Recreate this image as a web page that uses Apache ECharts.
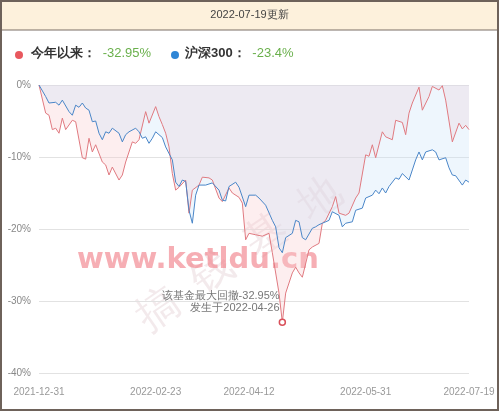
<!DOCTYPE html>
<html>
<head>
<meta charset="utf-8">
<script src="https://cdn.jsdelivr.net/npm/echarts@6/dist/echarts.min.js"></script>
<style>
  html, body { margin: 0; padding: 0; background: #fff; }
  #chart { width: 499px; height: 411px; }
</style>
</head>
<body>
<div id="chart"></div>
<script>
// trading-day index and cumulative return (%)
const fundDays = [0, 2, 3, 4, 5, 6, 7, 8, 10, 11, 13, 14, 15, 16, 17, 19, 20, 21, 22, 24, 25, 26, 28, 29, 30, 32, 33, 35, 36, 37, 38, 39, 40, 41, 42, 44, 45, 46, 48, 49, 51, 52, 54, 55, 57, 58, 60, 61, 62, 63, 65, 67, 69, 70, 72, 73, 74, 76, 77, 78, 79, 81, 82, 84, 85, 86, 88, 89, 90, 92, 93, 95, 96, 98, 99, 100, 101, 103, 104, 106, 107, 109, 110, 111, 112, 114, 115, 117, 118, 120, 121, 122, 124, 126, 127, 128, 129];
const fundVals = [0, -3.9, -4.2, -6.2, -6.0, -6.7, -4.6, -6.2, -4.9, -5.1, -10.1, -10.3, -7.4, -9.3, -8.3, -10.7, -11.1, -12.5, -11.4, -13.2, -12.5, -10.7, -7.9, -8.1, -7.6, -3.7, -5.3, -3.0, -4.4, -5.5, -6.7, -8.6, -12.3, -14.6, -14.2, -13.2, -17.8, -14.6, -13.9, -12.8, -12.9, -13.2, -15.7, -16.2, -14.3, -15.0, -15.6, -16.4, -21.5, -20.6, -20.8, -21.0, -20.6, -23.3, -28.9, -32.95, -28.9, -26.1, -25.3, -26.1, -26.7, -22.9, -22.5, -22.0, -19.2, -18.8, -16.9, -15.5, -17.8, -18.1, -17.8, -15.7, -15.0, -9.7, -9.9, -8.3, -10.1, -6.5, -7.2, -7.6, -4.9, -5.2, -6.9, -3.9, -2.5, -0.3, -3.5, -1.6, -0.2, -0.7, -0.1, -2.1, -7.9, -5.3, -6.1, -5.6, -6.2];
const indexDays = [0, 2, 3, 5, 6, 7, 9, 10, 11, 12, 13, 14, 15, 16, 17, 18, 19, 20, 21, 22, 24, 25, 26, 27, 29, 30, 31, 32, 33, 34, 35, 37, 38, 40, 41, 42, 43, 44, 45, 46, 47, 48, 50, 52, 54, 55, 56, 57, 59, 60, 62, 63, 65, 66, 68, 70, 71, 72, 73, 74, 76, 77, 78, 79, 80, 82, 83, 84, 85, 87, 88, 90, 91, 92, 94, 95, 97, 98, 100, 101, 102, 103, 104, 105, 107, 108, 109, 111, 112, 113, 114, 115, 116, 118, 119, 120, 122, 123, 124, 125, 127, 128, 129];
const indexVals = [0, -1.6, -2.5, -2.4, -2.8, -2.1, -3.7, -4.2, -2.8, -3.1, -2.5, -3.2, -3.5, -5.1, -5.0, -6.7, -7.6, -6.5, -6.7, -6.0, -6.7, -7.9, -6.9, -6.5, -6.0, -6.5, -7.4, -7.2, -8.1, -7.4, -6.5, -7.3, -8.6, -10.4, -13.5, -14.1, -13.2, -13.4, -17.4, -19.2, -15.3, -13.9, -13.9, -13.6, -14.6, -16.0, -16.1, -14.1, -13.5, -14.2, -16.9, -15.3, -15.3, -15.7, -16.7, -18.8, -19.7, -22.6, -23.3, -21.2, -20.6, -18.8, -19.0, -21.2, -21.5, -19.9, -19.7, -19.4, -19.2, -18.8, -17.6, -18.1, -19.7, -19.2, -19.0, -17.4, -17.1, -15.7, -15.3, -14.6, -15.1, -14.3, -15.0, -14.1, -12.9, -13.1, -12.3, -13.2, -11.8, -10.4, -9.3, -10.4, -9.3, -9.0, -9.3, -10.4, -10.1, -11.5, -12.5, -12.6, -13.9, -13.2, -13.5];
const tickDays = [0, 35, 63, 98, 129];
const tickLabels = ['2021-12-31', '2022-02-23', '2022-04-12', '2022-05-31', '2022-07-19'];

const chart = echarts.init(document.getElementById('chart'));
const pair = (d, v) => d.map((x, i) => [x, v[i]]);

chart.setOption({
  animation: false,
  grid: { left: 39, right: 30, top: 85, bottom: 38 },
  xAxis: {
    type: 'value', min: 0, max: 129,
    axisLine: { show: false }, axisTick: { show: false }, splitLine: { show: false },
    axisLabel: {
      customValues: tickDays, color: '#999', fontSize: 10, margin: 14,
      formatter: v => tickLabels[tickDays.indexOf(v)] || '',
      alignMinLabel: 'center', alignMaxLabel: 'center'
    }
  },
  yAxis: {
    type: 'value', min: -40, max: 0, interval: 10,
    axisLine: { show: false }, axisTick: { show: false },
    axisLabel: { formatter: '{value}%', color: '#888', fontSize: 10, margin: 8 },
    splitLine: { lineStyle: { color: '#e2e2e2' } }
  },
  series: [
    {
      name: '今年以来', type: 'line', data: pair(fundDays, fundVals),
      symbol: 'none', lineStyle: { color: '#e07a80', width: 1 },
      areaStyle: { origin: 'end', color: 'rgba(248,200,205,0.45)' },
      markPoint: {
        symbol: 'circle', symbolSize: 6,
        itemStyle: { color: '#fff', borderColor: '#d9505a', borderWidth: 1.5 },
        data: [{ coord: [73, -32.95] }],
        label: {
          formatter: '该基金最大回撤-32.95%\n发生于2022-04-26',
          position: 'left', align: 'right', offset: [6, -20],
          color: '#777', fontSize: 11, lineHeight: 12
        }
      }
    },
    {
      name: '沪深300', type: 'line', data: pair(indexDays, indexVals),
      symbol: 'none', lineStyle: { color: '#4a86c8', width: 1 },
      areaStyle: { origin: 'end', color: 'rgba(200,228,250,0.45)' }
    }
  ],
  graphic: [
    { type: 'rect', z: -1, shape: { x: 1, y: 1, width: 497, height: 29 }, style: { fill: '#fdf1dc', stroke: '#7a6e66', lineWidth: 1 } },
    { type: 'text', left: 'center', top: 9, style: { text: '2022-07-19更新', fontSize: 11, fill: '#444' } },
    { type: 'rect', shape: { x: 1, y: 1, width: 497, height: 409 }, style: { fill: 'none', stroke: '#6e625a', lineWidth: 2 } },
    { type: 'circle', shape: { cx: 19, cy: 55, r: 4 }, style: { fill: '#e8585e' } },
    { type: 'text', left: 31, top: 47, style: { text: '{b|今年以来：}  {g|-32.95%}', rich: { b: { fontSize: 13, fontWeight: 'bold', fill: '#333' }, g: { fontSize: 13, fill: '#6ab04c' } } } },
    { type: 'circle', shape: { cx: 175, cy: 55, r: 4 }, style: { fill: '#2f86d6' } },
    { type: 'text', left: 185, top: 47, style: { text: '{b|沪深300：}  {g|-23.4%}', rich: { b: { fontSize: 13, fontWeight: 'bold', fill: '#333' }, g: { fontSize: 13, fill: '#6ab04c' } } } },
    { type: 'text', x: 130, y: 305, rotation: 0.6, style: { text: '搞  钱  基  地', fontSize: 42, fill: 'rgba(200,160,170,0.22)' } },
    { type: 'text', left: 77, top: 246, style: { text: 'www.ketldu.cn', fontSize: 29, fontWeight: 'bold', fill: 'rgba(240,120,130,0.6)', fontFamily: 'Verdana, DejaVu Sans' } }
  ]
});
</script>
</body>
</html>
